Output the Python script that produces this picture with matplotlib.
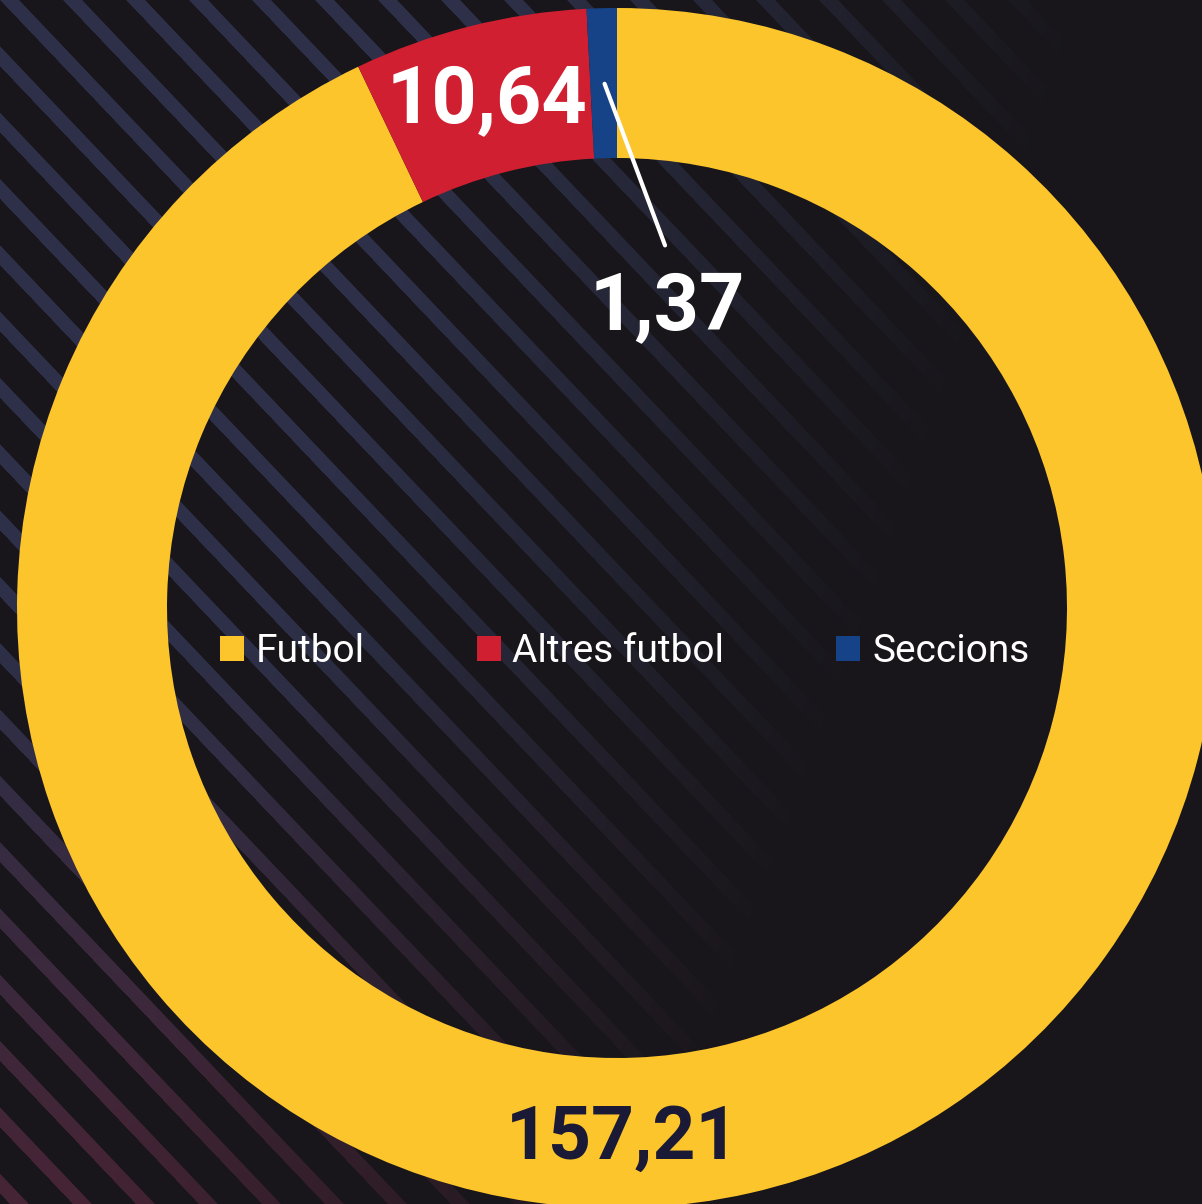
import numpy as np
import matplotlib.pyplot as plt

# dades (milions d'euros)
categories = ['Futbol', 'Altres futbol', 'Seccions']
values = [157.21, 10.64, 1.37]
colors = ['#fdc52c', '#d01f31', '#164387']

W, H = 1202, 1204
bg = np.array([24, 22, 26]) / 255

# fons amb ratlles diagonals que s'esvaeixen cap a la dreta
X, Y = np.meshgrid(np.arange(W), np.arange(H))
u = np.mod(X - 0.95 * Y, 63.0)
stripe = np.clip(np.minimum(u, 19 - u) + 0.5, 0, 1)
fade = np.clip((1100 - (X + 0.35 * Y)) / 600, 0, 1)
top_col = np.array([45, 48, 72]) / 255
bot_col = np.array([70, 36, 53]) / 255
t = np.clip((Y - 650) / 550, 0, 1)[..., None]
scol = top_col * (1 - t) + bot_col * t
img = bg + (stripe * fade)[..., None] * (scol - bg)

fig = plt.figure(figsize=(W / 100, H / 100), dpi=100)
fig.patch.set_facecolor('#18161a')
ax = fig.add_axes([0, 0, 1, 1])
ax.imshow(img, extent=(0, W, 0, H), origin='upper', zorder=0)

cx, cy, R, ring = 617, H - 608, 600, 150
wedges, _ = ax.pie(values, colors=colors, startangle=90, counterclock=False,
                   center=(cx, cy), radius=R,
                   wedgeprops=dict(width=ring, linewidth=0))
for w in wedges:
    w.set_zorder(2)

ax.set_xlim(0, W)
ax.set_ylim(0, H)
ax.set_aspect('equal')
ax.axis('off')

total = sum(values)
fmt = lambda v: f"{v:.2f}".replace('.', ',')
num_font = dict(family=['Roboto', 'DejaVu Sans'], weight='bold', fontsize=57)

# angles mitjans de cada falca
starts = 90 - 360 * np.cumsum([0] + values[:-1]) / total
mids = starts - 180 * np.array(values) / total
rl = R - ring / 2 + 2

# Altres futbol: dins la falca
a = np.deg2rad(mids[1])
ax.text(cx + rl * np.cos(a), cy + rl * np.sin(a) - 3, fmt(values[1]),
        color='white', ha='center', va='center', zorder=4, **num_font)

# Seccions: línia guia i etiqueta a dins
a = np.deg2rad(mids[2])
p0 = (cx + rl * np.cos(a), cy + rl * np.sin(a))
p1 = (cx + 49, H - 248)
ax.annotate('', xy=p0, xytext=p1,
            arrowprops=dict(arrowstyle='-', color='white', lw=3), zorder=4)
ax.text(p1[0] + 1, p1[1] - 60, fmt(values[2]), color='white',
        ha='center', va='center', zorder=4, **num_font)

# Futbol: a la part de baix
ax.text(cx + 6, cy - rl - 4, fmt(values[0]), color='#1b1a36',
        ha='center', va='center', zorder=4,
        **{**num_font, 'fontsize': 54})

leg = fig.legend(wedges, categories, ncol=3, loc='center',
                 bbox_to_anchor=(624.5 / W, 1 - 652 / H), frameon=False,
                 prop=dict(family=['Roboto', 'DejaVu Sans'], weight='normal', size=28),
                 labelcolor='white', handlelength=0.62, handleheight=0.62,
                 handletextpad=0.3, columnspacing=2.88)

fig.savefig('out.png', dpi=100, facecolor=fig.get_facecolor())
